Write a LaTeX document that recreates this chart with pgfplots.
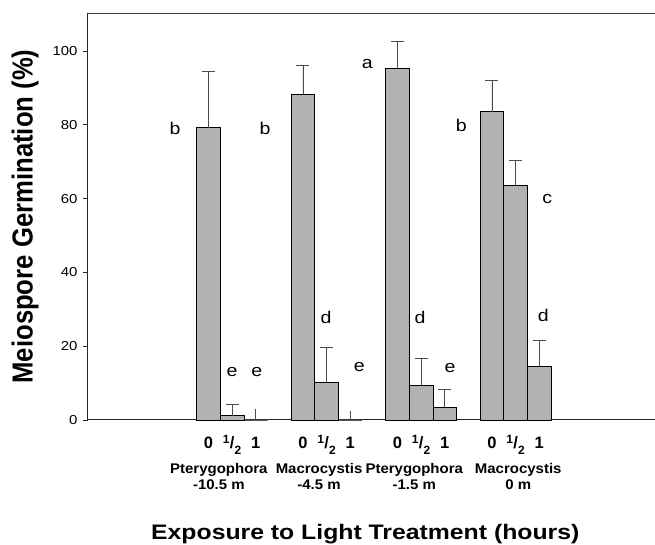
\documentclass[border=0pt]{standalone}
\usepackage{fontspec}
\setmainfont{Liberation Sans}
\newfontfamily\widefont[FakeStretch=1.15]{Liberation Sans}
\newfontfamily\xlabfont[FakeStretch=1.18]{Liberation Sans}
\newfontfamily\ylabfont[FakeStretch=0.886]{Liberation Sans}
\newfontfamily\grpfont[FakeStretch=1.07]{Liberation Sans}
\usepackage{pgfplots}
\pgfplotsset{compat=1.18}
\newcommand{\half}{\raisebox{5pt}{\fontsize{12}{12}\selectfont 1}\kern0.3pt/\kern0.3pt\raisebox{-6pt}{\fontsize{12}{12}\selectfont 2}}
\pgfplotstableread{
x y e
0 79.2 15.4
1 1.2 3.1
4 88.3 7.8
5 10.2 9.5
8 95.3 7.2
9 9.4 7.3
10 3.4 4.9
12 83.5 8.4
13 63.6 6.7
14 14.5 7.0
}\bars
\pgfplotstableread{
x y e
2 0 3.0
6 0 2.5
}\zerobars
\begin{document}
\begin{tikzpicture}
\useasboundingbox (-88pt,-125pt) rectangle (567pt,420pt);
\begin{axis}[
  at={(0,0)}, anchor=south west,
  scale only axis, width=567pt, height=407pt,
  xmin=-5.1, xmax=18.9, ymin=0, ymax=110.3,
  axis x line*=bottom, axis y line*=left,
  axis line style={-, line width=1pt, black!85},
  ytick={0,20,...,100},
  tick align=outside, major tick length=5pt,
  y tick style={black!85, line width=0.8pt},
  /pgf/number format/assume math mode=true,
  yticklabel style={font=\widefont\fontsize{13}{13}\selectfont, xshift=-2pt},
  xtick={0,1,2,4,5,6,8,9,10,12,13,14},
  xticklabels={0,\half,1,0,\half,1,0,\half,1,0,\half,1},
  x tick style={draw=none},
  xticklabel style={font=\bfseries\fontsize{16.5}{16.5}\selectfont, anchor=base, yshift=-23pt},
  xlabel={Exposure to Light Treatment (hours)},
  xlabel style={font=\xlabfont\bfseries\fontsize{21}{21}\selectfont, at={(axis description cs:0.489,0)}, anchor=base, yshift=-119pt},
  ylabel={Meiospore Germination (\%)},
  ylabel style={font=\ylabfont\bfseries\fontsize{29}{29}\selectfont, at={(axis description cs:-0.111,0.5)}, anchor=center},
  clip=false,
]
\addplot[ybar, bar width=1, bar shift=0pt, fill=black!30, draw=black, line width=0.8pt,
  error bars/.cd, y dir=plus, y explicit,
  error bar style={black!70, line width=0.8pt},
  error mark options={black!70, line width=0.8pt, mark size=6.5pt, rotate=90}]
  table[x=x, y=y, y error=e] {\bars};
\addplot[ybar, bar width=1, bar shift=0pt, fill=black!30, draw=black, line width=0.8pt,
  error bars/.cd, y dir=plus, y explicit, error mark=none,
  error bar style={black!70, line width=0.8pt}]
  table[x=x, y=y, y error=e] {\zerobars};
\draw[black!75, line width=0.8pt] (rel axis cs:0,1) -- (rel axis cs:1,1);
\tikzset{lt/.style={font=\widefont\fontsize{17}{17}\selectfont, inner sep=0pt}}
\node[lt] at (axis cs:-1.42,79) {b};
\node[lt] at (axis cs:1.0,13.1) {e};
\node[lt] at (axis cs:2.05,13.1) {e};
\node[lt] at (axis cs:2.39,79) {b};
\node[lt] at (axis cs:4.98,27.9) {d};
\node[lt] at (axis cs:6.38,14.4) {e};
\node[lt] at (axis cs:6.72,96.5) {a};
\node[lt] at (axis cs:8.96,27.9) {d};
\node[lt] at (axis cs:10.23,14) {e};
\node[lt] at (axis cs:10.7,79.7) {b};
\node[lt] at (axis cs:14.34,59.9) {c};
\node[lt] at (axis cs:14.17,28.4) {d};
\tikzset{gl/.style={font=\grpfont\bfseries\fontsize{14}{17}\selectfont, align=center, anchor=base, yshift=-70pt, inner sep=0pt}}
\node[gl] at (axis cs:0.44,0) {Pterygophora\\-10.5 m};
\node[gl] at (axis cs:4.68,0) {Macrocystis\\-4.5 m};
\node[gl] at (axis cs:8.71,0) {Pterygophora\\-1.5 m};
\node[gl] at (axis cs:13.11,0) {Macrocystis\\0 m};
\end{axis}
\end{tikzpicture}
\end{document}
